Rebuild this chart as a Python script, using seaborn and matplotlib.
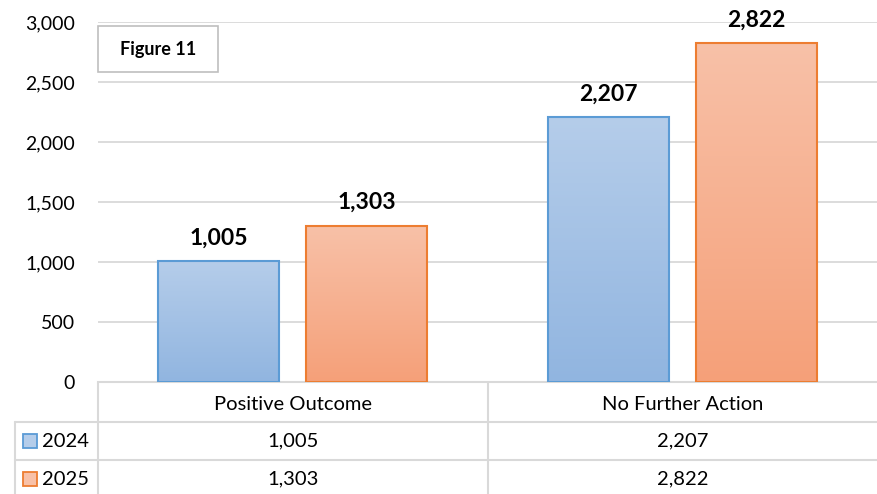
import numpy as np
import pandas as pd
import seaborn as sns
import matplotlib.pyplot as plt
import matplotlib.transforms as mtransforms
from matplotlib.colors import LinearSegmentedColormap
from matplotlib.patches import Rectangle

# Data
categories = ['Positive Outcome', 'No Further Action']
years = ['2024', '2025']
values_2024 = [1005, 2207]
values_2025 = [1303, 2822]
yticks = [0, 500, 1000, 1500, 2000, 2500, 3000]

df = pd.DataFrame({
    'category': categories * 2,
    'year': [years[0]] * 2 + [years[1]] * 2,
    'value': values_2024 + values_2025,
})

sns.set_style('white')
plt.rcParams['font.family'] = ['Lato', 'DejaVu Sans']
plt.rcParams['text.color'] = 'black'

edge_cols = {'2024': '#5b9bd5', '2025': '#ed7d31'}
grad_cols = {'2024': ('#b5cdea', '#91b5e0'), '2025': ('#f8c1a8', '#f5a079')}

fig = plt.figure(figsize=(8.77, 4.94), dpi=100)
ax = fig.add_axes([98 / 877, 112 / 494, 779 / 877, 360 / 494])

sns.barplot(data=df, x='category', y='value', hue='year', ax=ax,
            palette=edge_cols, width=0.76, gap=0.18, legend=False)

ax.set_xlim(-0.5, 1.5)
ax.set_ylim(0, 3000)
ax.set_yticks(yticks)
ax.set_yticklabels([f'{v:,}' for v in yticks], fontsize=14)
ax.tick_params(axis='y', length=0, pad=16.5, labelcolor='black')
ax.set_xticks([])
ax.set_xlabel('')
ax.set_ylabel('')
ax.yaxis.grid(True, color='#d9d9d9', linewidth=1.3)
ax.set_axisbelow(True)
for s in ['top', 'right', 'left']:
    ax.spines[s].set_visible(False)
ax.spines['bottom'].set_color('#d9d9d9')
ax.spines['bottom'].set_linewidth(1.5)

# gradient fill and labels
for container, yr in zip(ax.containers, years):
    cmap = LinearSegmentedColormap.from_list(yr, [grad_cols[yr][1], grad_cols[yr][0]])
    for bar in container:
        x0, w, h = bar.get_x(), bar.get_width(), bar.get_height()
        bar.set_facecolor('none')
        bar.set_edgecolor(edge_cols[yr])
        bar.set_linewidth(1.5)
        bar.set_zorder(3)
        grad = np.linspace(0, 1, 256).reshape(-1, 1)
        im = ax.imshow(grad, cmap=cmap, origin='lower', aspect='auto',
                       extent=(x0, x0 + w, 0, h), zorder=2)
        im.set_clip_path(bar)
        ax.annotate(f'{int(h):,}', (x0 + w / 2, h), xytext=(0, 9),
                    textcoords='offset points', ha='center', va='bottom',
                    fontsize=16.5, fontweight='bold', color='black')
ax.set_xlim(-0.5, 1.5)
ax.set_ylim(0, 3000)

# Figure 11 box
fig.patches.append(Rectangle((98 / 877, (494 - 72) / 494), 120 / 877, 46 / 494,
                             transform=fig.transFigure, facecolor='white',
                             edgecolor='#bfbfbf', linewidth=1.2, zorder=5))
fig.text(158 / 877, (494 - 49) / 494, 'Figure 11', ha='center', va='center',
         fontsize=13, fontweight='bold', zorder=6)

# data table below the chart
def fx(px):
    return px / 877


def fy(py):
    return (494 - py) / 494


lc = '#d9d9d9'
line_kw = dict(transform=fig.transFigure, color=lc, linewidth=1.5)
fig.add_artist(plt.Line2D([fx(15), fx(877)], [fy(422), fy(422)], **line_kw))
fig.add_artist(plt.Line2D([fx(15), fx(877)], [fy(460), fy(460)], **line_kw))
fig.add_artist(plt.Line2D([fx(15), fx(15)], [fy(422), fy(494)], **line_kw))
fig.add_artist(plt.Line2D([fx(98), fx(98)], [fy(383), fy(494)], **line_kw))
fig.add_artist(plt.Line2D([fx(488), fx(488)], [fy(383), fy(494)], **line_kw))

trans = mtransforms.blended_transform_factory(ax.transData, fig.transFigure)
row_y = [fy(441), fy(479)]
for i, cat in enumerate(categories):
    ax.text(i, fy(404), cat, transform=trans, ha='center', va='center',
            fontsize=14.5, clip_on=False)
    for j, vals in enumerate([values_2024, values_2025]):
        ax.text(i, row_y[j], f'{vals[i]:,}', transform=trans, ha='center',
                va='center', fontsize=14.5, clip_on=False)

for j, yr in enumerate(years):
    fig.patches.append(Rectangle((fx(23), row_y[j] - 7 / 494), 14 / 877, 14 / 494,
                                 transform=fig.transFigure,
                                 facecolor=grad_cols[yr][0],
                                 edgecolor=edge_cols[yr], linewidth=1.3))
    fig.text(fx(42), row_y[j], yr, ha='left', va='center', fontsize=14.5)

fig.savefig('out.png', dpi=100)
